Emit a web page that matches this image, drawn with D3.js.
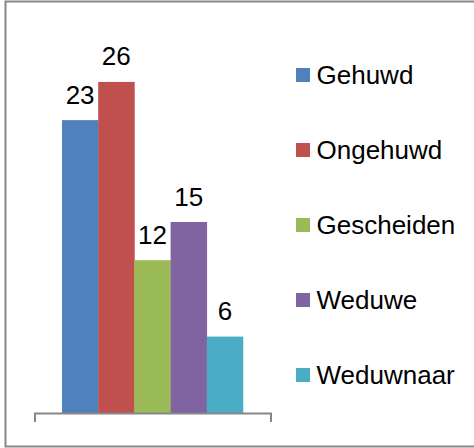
<!DOCTYPE html>
<html>
<head>
<meta charset="utf-8">
<script src="https://cdn.jsdelivr.net/npm/d3@7"></script>
<style>
  body { margin: 0; background: #fff; }
  text { font-family: "Liberation Sans", Arial, sans-serif; }
</style>
</head>
<body>
<svg id="chart" width="474" height="448"></svg>
<script>
// chart values
var categories = [""];
var seriesNames = ["Gehuwd", "Ongehuwd", "Gescheiden", "Weduwe", "Weduwnaar"];
var seriesValues = [23, 26, 12, 15, 6];
var seriesColors = ["#4f81bd", "#c0504d", "#9bbb59", "#8064a2", "#4bacc6"];

var svg = d3.select("#chart");

// outer frame (right edge falls outside the picture)
svg.append("rect")
    .attr("x", 5.5).attr("y", 1.5)
    .attr("width", 480).attr("height", 445)
    .attr("fill", "none")
    .attr("stroke", "#878787")
    .attr("stroke-width", 2);

let yScale = d3.scaleLinear()
    .domain([0, 30])
    .range([413, 31]);

let x0 = d3.scaleBand()
    .domain(categories)
    .range([34.5, 270.5])
    .paddingOuter(0.152);

let x1 = d3.scaleBand()
    .domain(seriesNames)
    .range([0, x0.bandwidth()]);

let data = seriesNames.map((name, i) => ({ name: name, value: seriesValues[i], color: seriesColors[i] }));

let group = svg.append("g")
    .attr("transform", "translate(" + x0(categories[0]) + ",0)");

group.selectAll("rect")
    .data(data)
    .enter().append("rect")
    .attr("x", d => x1(d.name))
    .attr("width", x1.bandwidth() + 0.3)
    .attr("y", d => yScale(d.value))
    .attr("height", d => yScale(0) - yScale(d.value))
    .attr("fill", d => d.color);

group.selectAll("text.label")
    .data(data)
    .enter().append("text")
    .attr("class", "label")
    .attr("x", d => x1(d.name) + x1.bandwidth() / 2)
    .attr("y", d => yScale(d.value) - 16.5)
    .attr("text-anchor", "middle")
    .style("font-size", "26px")
    .attr("fill", "#000")
    .text(d => d.value);

// category axis: line with end ticks, no labels
let xAxis = d3.axisBottom(x0).tickSize(0).tickSizeOuter(9).tickFormat("");
let axisG = svg.append("g")
    .attr("transform", "translate(0," + yScale(0) + ")")
    .call(xAxis);
axisG.select(".domain").attr("stroke", "#878787").attr("stroke-width", 2);
axisG.selectAll(".tick").remove();

// legend
let legend = svg.append("g");
let legendY = d3.scalePoint()
    .domain(seriesNames)
    .range([75, 375]);

let items = legend.selectAll("g")
    .data(data)
    .enter().append("g")
    .attr("transform", d => "translate(296," + legendY(d.name) + ")");

items.append("rect")
    .attr("x", 0).attr("y", -7)
    .attr("width", 14).attr("height", 14)
    .attr("fill", d => d.color);

items.append("text")
    .attr("x", 20.5)
    .attr("y", 9)
    .style("font-size", "26px")
    .attr("fill", "#000")
    .text(d => d.name);
</script>
</body>
</html>
